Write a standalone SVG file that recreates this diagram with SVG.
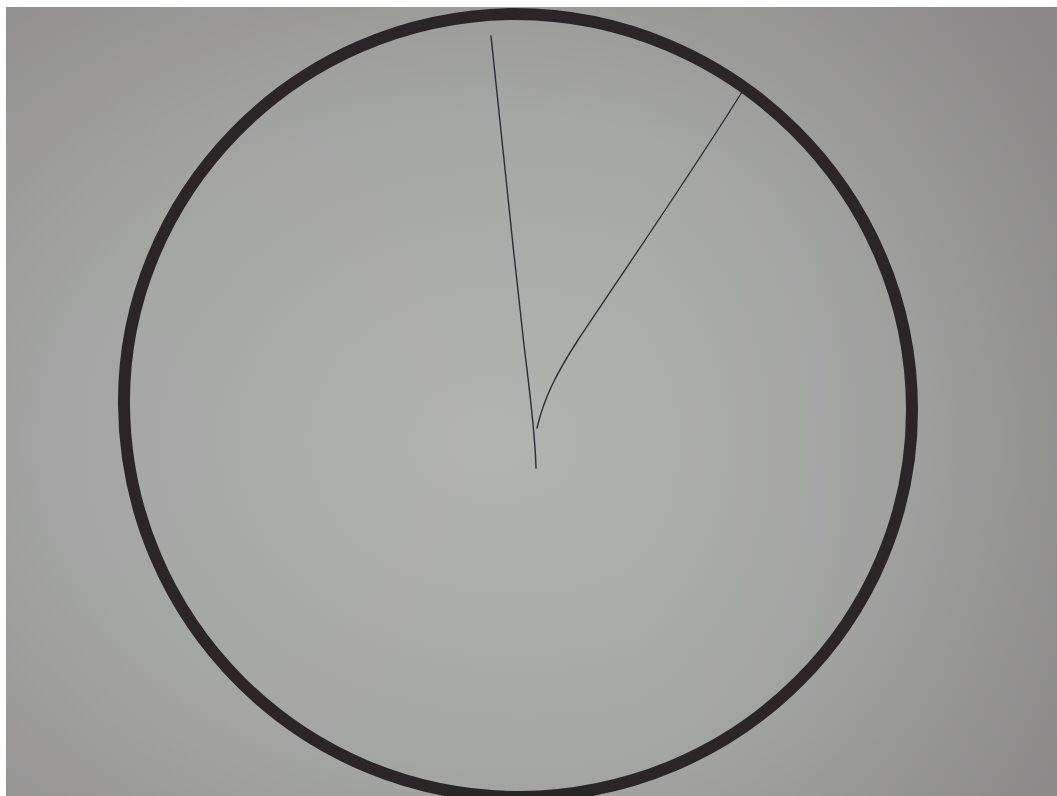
<svg xmlns="http://www.w3.org/2000/svg" width="1057" height="796" viewBox="0 0 1057 796">
  <defs>
    <radialGradient id="bg" cx="0.45" cy="0.55" r="0.75">
      <stop offset="0" stop-color="#b3b5b3"/>
      <stop offset="0.55" stop-color="#a5a7a5"/>
      <stop offset="1" stop-color="#8e8c8c"/>
    </radialGradient>
    <linearGradient id="shade" x1="0" y1="0" x2="1" y2="0">
      <stop offset="0" stop-color="#9a9696" stop-opacity="0.15"/>
      <stop offset="0.6" stop-color="#9a9898" stop-opacity="0"/>
      <stop offset="1" stop-color="#807e7e" stop-opacity="0.35"/>
    </linearGradient>
    <style>
      .rim { fill: none; stroke: #2a2627; stroke-width: 12; }
      .pen { fill: none; stroke: #2c2c34; stroke-width: 1.4; stroke-linecap: round; }
    </style>
  </defs>
  <rect x="0" y="0" width="1057" height="796" fill="#ffffff"/>
  <rect x="6" y="7" width="1051" height="789" fill="url(#bg)"/>
  <rect x="6" y="7" width="1051" height="789" fill="url(#shade)"/>
  <g id="circle">
    <path class="rim" d="M124,405 C122,200 290,16 515,14 C730,14 912,190 912,410 C912,620 740,795 520,797 C300,797 126,620 124,405 Z"/>
  </g>
  <g id="connectors">
    <path class="pen" d="M491,36 C500,120 512,240 524,345 C530,395 535,430 536,468"/>
    <path class="pen" d="M537,428 C544,398 556,374 578,340 C630,262 690,175 742,92"/>
  </g>
</svg>
